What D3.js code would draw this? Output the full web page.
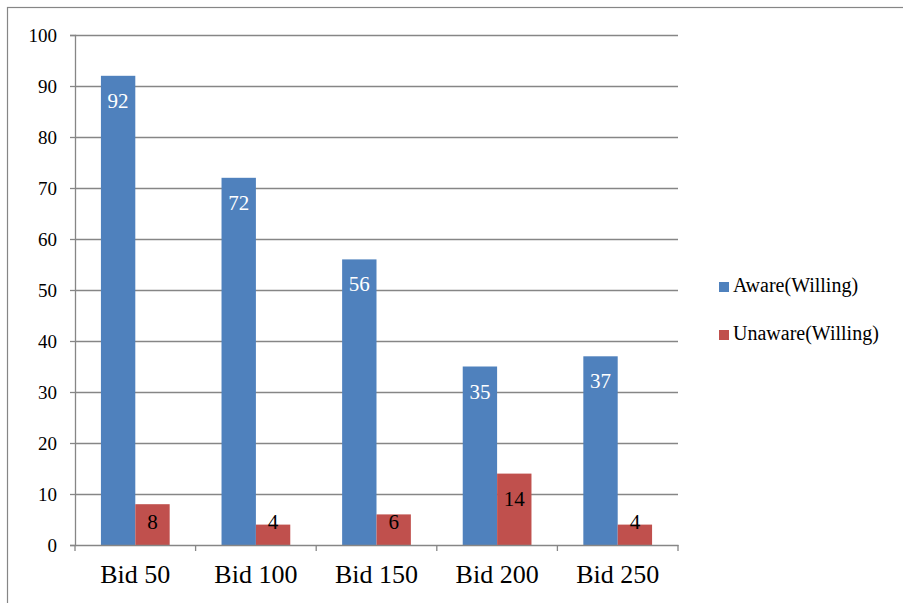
<!DOCTYPE html>
<html><head><meta charset="utf-8"><script src="https://d3js.org/d3.v7.min.js"></script></head>
<body style="margin:0">
<script>
let categories = ["Bid 50", "Bid 100", "Bid 150", "Bid 200", "Bid 250"]
let seriesNames = ["Aware(Willing)", "Unaware(Willing)"]
let aware = [92, 72, 56, 35, 37]
let unaware = [8, 4, 6, 14, 4]
let yTicks = [0, 10, 20, 30, 40, 50, 60, 70, 80, 90, 100]
let colors = ["#4f81bd", "#c0504d"]

let fontName = "'Liberation Serif'"

let w = 903
let h = 603
let plotLeft = 75, plotRight = 678, plotTop = 35, plotBottom = 545

let svg = d3.select("body").append("svg")
  .attr("width", w)
  .attr("height", h)

// outer chart frame
svg.append("rect")
  .attr("x", 7.5).attr("y", 7.5)
  .attr("width", 920).attr("height", 620)
  .attr("fill", "none")
  .attr("stroke", "#868686")
  .attr("stroke-width", 1.2)

let xScale = d3.scaleBand().domain(categories).range([plotLeft, plotRight]).paddingInner(0.43).paddingOuter(0.215)
let yScale = d3.scaleLinear().domain([0, 100]).range([plotBottom, plotTop])
let x0 = d3.scaleBand().domain(categories).range([plotLeft, plotRight])

// gridlines
svg.append("g")
  .selectAll("line")
  .data(yTicks.filter(d => d > 0))
  .enter()
  .append("line")
  .attr("x1", plotLeft).attr("x2", plotRight)
  .attr("y1", d => Math.round(yScale(d)) + 0.5)
  .attr("y2", d => Math.round(yScale(d)) + 0.5)
  .attr("stroke", "#868686")
  .attr("stroke-width", 1.3)

let bw = xScale.bandwidth() / 2
let rows = categories.map((c, i) => [
  {cat: c, s: 0, v: aware[i]},
  {cat: c, s: 1, v: unaware[i]}
]).flat()

svg.append("g")
  .selectAll("rect")
  .data(rows)
  .enter()
  .append("rect")
  .attr("x", d => xScale(d.cat) + d.s * bw)
  .attr("y", d => yScale(d.v))
  .attr("width", bw)
  .attr("height", d => yScale(0) - yScale(d.v))
  .attr("fill", d => colors[d.s])

// value labels (inside end, kept inside the bar)
svg.append("g")
  .selectAll("text")
  .data(rows)
  .enter()
  .append("text")
  .attr("x", d => xScale(d.cat) + d.s * bw + bw / 2)
  .attr("y", d => Math.min(yScale(d.v) + 32, yScale(0) - 16))
  .attr("text-anchor", "middle")
  .attr("font-size", 21)
  .style("font-family", d => fontName)
  .attr("fill", d => d.s === 0 ? "#fff" : "#000")
  .text(d => d.v)

// y axis
let yAxis = d3.axisLeft(yScale).tickValues(yTicks).tickSize(5).tickPadding(13)
let gy = svg.append("g")
  .attr("transform", "translate(" + plotLeft + ",0)")
  .call(yAxis)
  .attr("font-family", null)
gy.select(".domain").attr("stroke", "#868686").attr("stroke-width", 1.3)
gy.selectAll(".tick line").attr("stroke", "#868686").attr("stroke-width", 1.3)
gy.selectAll(".tick text")
  .attr("font-size", 19)
  .style("font-family", d => fontName)
  .attr("fill", "#000")

// x axis
let xAxis = d3.axisBottom(x0).tickSize(0).tickPadding(20)
let gx = svg.append("g")
  .attr("transform", "translate(0," + plotBottom + ")")
  .call(xAxis)
  .attr("font-family", null)
gx.select(".domain").attr("stroke", "#868686").attr("stroke-width", 1.3)
gx.selectAll(".tick text")
  .attr("font-size", 26)
  .style("font-family", d => fontName)
  .attr("fill", "#000")

// x category separators
let seps = categories.map(c => x0(c)).concat([plotRight])
svg.append("g")
  .selectAll("line")
  .data(seps)
  .enter()
  .append("line")
  .attr("x1", d => d).attr("x2", d => d)
  .attr("y1", plotBottom).attr("y2", plotBottom + 6)
  .attr("stroke", "#868686")
  .attr("stroke-width", 1.3)

// legend
let legend = svg.append("g")
  .selectAll("g")
  .data(seriesNames)
  .enter()
  .append("g")
  .attr("transform", (d, i) => "translate(719," + (282 + i * 48) + ")")

legend.append("rect")
  .attr("width", 10).attr("height", 10)
  .attr("fill", (d, i) => colors[i])

legend.append("text")
  .attr("x", 14).attr("y", 10)
  .attr("font-size", 20)
  .style("font-family", d => fontName)
  .attr("fill", "#000")
  .text(d => d)
</script>
</body>
</html>
